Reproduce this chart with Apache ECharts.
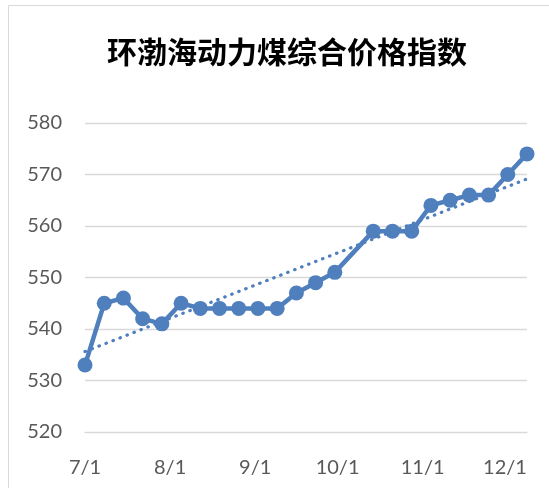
<!DOCTYPE html>
<html>
<head>
<meta charset="utf-8">
<script src="https://cdn.jsdelivr.net/npm/echarts@6/dist/echarts.min.js"></script>
<style>
  html, body { margin: 0; padding: 0; background: #fff; }
  #chart { width: 549px; height: 488px; }
</style>
</head>
<body>
<div id="chart"></div>
<script>
// weekly readings (10/7 week missing - holiday)
var dates = ['7/1', '7/8', '7/15', '7/22', '7/29', '8/5', '8/12', '8/19', '8/26',
    '9/2', '9/9', '9/16', '9/23', '9/30', '10/14', '10/21', '10/28',
    '11/4', '11/11', '11/18', '11/25', '12/2', '12/9'];
var values = [533, 545, 546, 542, 541, 545, 544, 544, 544, 544, 544, 547, 549, 551,
    559, 559, 559, 564, 565, 566, 566, 570, 574];
var tickLabels = ['7/1', '8/1', '9/1', '10/1', '11/1', '12/1'];

var YEAR = 2013;
function toTs(s) {
    var p = s.split('/');
    return Date.UTC(YEAR, +p[0] - 1, +p[1]);
}

var points = dates.map(function (d, i) { return [toTs(d), values[i]]; });

// linear trend line (least squares), like the Excel trendline
var n = points.length, sx = 0, sy = 0, sxx = 0, sxy = 0;
points.forEach(function (p) {
    var x = (p[0] - points[0][0]) / 864e5;
    sx += x; sy += p[1]; sxx += x * x; sxy += x * p[1];
});
var slope = (n * sxy - sx * sy) / (n * sxx - sx * sx);
var icpt = (sy - slope * sx) / n;
var trend = [points[0][0], points[n - 1][0]].map(function (t) {
    return [t, icpt + slope * (t - points[0][0]) / 864e5];
});

var myChart = echarts.init(document.getElementById('chart'));

myChart.setOption({
    backgroundColor: '#fff',
    animation: false,
    title: {
        text: '环渤海动力煤综合价格指数',
        left: 282,
        textAlign: 'center',
        top: 32,
        textStyle: {
            fontFamily: 'Noto Sans CJK SC',
            fontSize: 30,
            fontWeight: 'bold',
            color: '#000'
        }
    },
    graphic: [{
        type: 'rect',
        shape: { x: 8.5, y: 5.5, width: 700, height: 700 },
        style: { fill: 'none', stroke: '#d9d9d9', lineWidth: 1 },
        silent: true
    }],
    grid: { left: 85, right: 22, top: 123, bottom: 56 },
    xAxis: {
        type: 'value',
        min: toTs(dates[0]),
        max: toTs(dates[dates.length - 1]),
        axisLine: { show: true, lineStyle: { color: '#d9d9d9', width: 1 } },
        axisTick: { show: false },
        splitLine: { show: false },
        axisLabel: {
            customValues: tickLabels.map(toTs),
            formatter: function (v) {
                var d = new Date(v);
                return (d.getUTCMonth() + 1) + '/' + d.getUTCDate();
            },
            margin: 26,
            color: '#595959',
            fontFamily: 'Lato',
            fontSize: 20
        }
    },
    yAxis: {
        type: 'value',
        min: 520,
        max: 580,
        interval: 10,
        axisLine: { show: false },
        axisTick: { show: false },
        splitLine: { lineStyle: { color: '#d9d9d9', width: 1.3 } },
        axisLabel: {
            margin: 23,
            color: '#595959',
            fontFamily: 'Lato',
            fontSize: 20
        }
    },
    series: [
        {
            name: '趋势',
            type: 'line',
            data: trend,
            symbol: 'none',
            z: 1,
            lineStyle: { color: '#4f7fbd', width: 3.2, type: [0.5, 7], cap: 'round' }
        },
        {
            name: '指数',
            type: 'line',
            data: points,
            symbol: 'circle',
            symbolSize: 15,
            z: 2,
            itemStyle: { color: '#4f7fbd' },
            lineStyle: { color: '#4f7fbd', width: 4.5 }
        }
    ]
});
</script>
</body>
</html>
